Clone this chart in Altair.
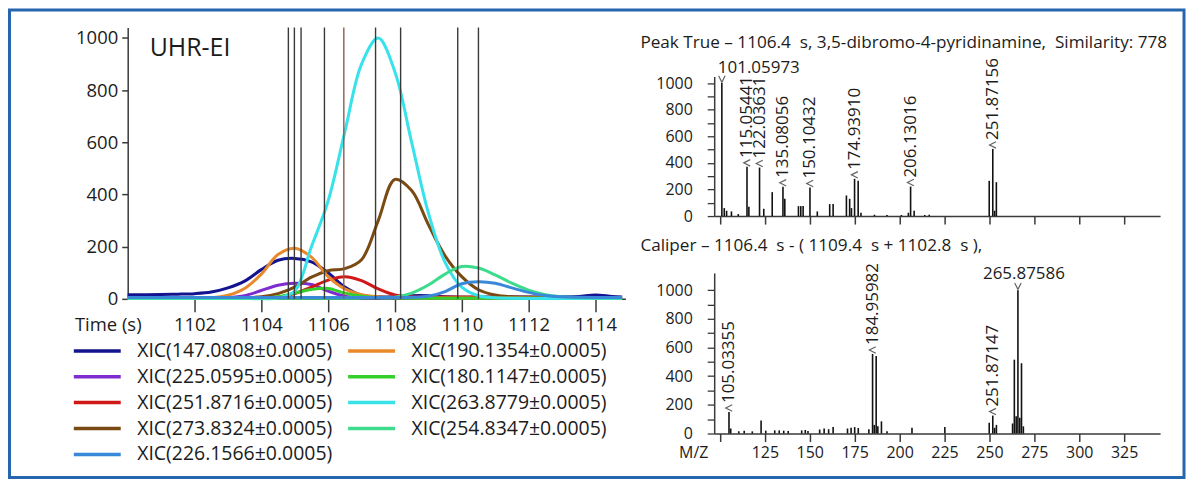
import altair as alt
import pandas as pd

FONT = "Open Sans"
INK = "#1c1c1c"
AXC = "#3a3a3a"

# ---------------- chromatogram (left) ----------------
time_s = [1100.0, 1100.5, 1101.0, 1101.5, 1102.0, 1102.5, 1103.0, 1103.5, 1104.0, 1104.5,
          1105.0, 1105.5, 1106.0, 1106.5, 1107.0, 1107.5, 1108.0, 1108.5, 1109.0, 1109.5,
          1110.0, 1110.5, 1111.0, 1111.5, 1112.0, 1112.5, 1113.0, 1113.5, 1114.0, 1114.5, 1114.8]

xic_147 = [16, 16, 17, 18, 20, 26, 42, 68, 112, 148, 155, 142, 100, 45, 14, 8, 8, 12, 12, 8,
           6, 6, 7, 7, 7, 7, 8, 9, 15, 9, 7]
xic_190 = [3, 3, 3, 3, 3, 4, 14, 40, 95, 170, 194, 160, 85, 38, 16, 8, 5, 4, 3, 3,
           3, 3, 3, 3, 3, 3, 3, 3, 3, 3, 3]
xic_225 = [2, 2, 2, 2, 2, 2, 4, 12, 32, 52, 60, 55, 30, 10, 4, 3, 2, 2, 2, 2,
           2, 2, 2, 2, 2, 2, 2, 2, 2, 2, 2]
xic_251 = [3, 3, 3, 3, 3, 3, 3, 3, 4, 6, 20, 45, 72, 85, 70, 38, 15, 8, 7, 7,
           7, 7, 7, 7, 6, 6, 5, 4, 3, 3, 3]
xic_273 = [3, 3, 3, 3, 3, 3, 4, 5, 8, 20, 45, 83, 108, 116, 150, 300, 458, 415, 285, 165,
           85, 35, 15, 8, 6, 5, 4, 4, 3, 3, 3]
xic_180 = [2, 2, 2, 2, 2, 2, 2, 2, 3, 8, 22, 36, 40, 22, 10, 5, 3, 2, 2, 2,
           2, 2, 2, 2, 2, 2, 2, 2, 2, 2, 2]
xic_263 = [1, 1, 1, 1, 1, 1, 1, 1, 1, 3, 30, 200, 375, 640, 900, 1000, 870, 600, 330, 140,
           45, 12, 4, 2, 1, 1, 1, 1, 1, 1, 1]
xic_254 = [2, 2, 2, 2, 2, 2, 2, 2, 2, 2, 2, 2, 2, 2, 3, 4, 6, 22, 53, 95,
           124, 118, 92, 60, 33, 16, 8, 5, 3, 3, 2]
xic_226 = [5, 5, 5, 5, 5, 5, 5, 5, 5, 5, 5, 5, 5, 5, 5, 5, 5, 6, 10, 28,
           58, 66, 60, 42, 25, 13, 8, 6, 5, 5, 5]

# drawing order (first drawn first)
series_draw = [
    ("XIC(147.0808±0.0005)", xic_147),
    ("XIC(225.0595±0.0005)", xic_225),
    ("XIC(251.8716±0.0005)", xic_251),
    ("XIC(273.8324±0.0005)", xic_273),
    ("XIC(190.1354±0.0005)", xic_190),
    ("XIC(180.1147±0.0005)", xic_180),
    ("XIC(263.8779±0.0005)", xic_263),
    ("XIC(254.8347±0.0005)", xic_254),
    ("XIC(226.1566±0.0005)", xic_226),
]

# legend order (column-major in a 2-column grid of 5 rows)
legend_order = ["XIC(147.0808±0.0005)", "XIC(225.0595±0.0005)",
                "XIC(251.8716±0.0005)", "XIC(273.8324±0.0005)",
                "XIC(226.1566±0.0005)", "XIC(190.1354±0.0005)",
                "XIC(180.1147±0.0005)", "XIC(263.8779±0.0005)",
                "XIC(254.8347±0.0005)"]
legend_colors = ["#13138f", "#7d2ccf", "#d01818", "#7a4a12", "#3a88d8",
                 "#e8892c", "#35cf2c", "#38e2ea", "#3ddc8c"]

marker_times = [1104.81, 1104.99, 1105.19, 1105.89, 1106.47, 1107.42, 1108.17, 1109.88, 1110.50]
marker_colors = ["#3a3a3a", "#3a3a3a", "#3a3a3a", "#3a3a3a", "#8a5a50",
                 "#3a3a3a", "#3a3a3a", "#3a3a3a", "#3a3a3a"]

panel_label = ["UHR-EI"]

rows = []
for k, (name, vals) in enumerate(series_draw):
    for t, v in zip(time_s, vals):
        rows.append({"t": t, "v": v, "series": name, "k": k})
df_xic = pd.DataFrame(rows)
df_mark = pd.DataFrame({"t": marker_times, "col": marker_colors})

W_L, H_L = 499, 272

x_t = alt.X("t:Q", scale=alt.Scale(domain=[1100, 1114.9], nice=False, zero=False),
            axis=alt.Axis(values=[1102, 1104, 1106, 1108, 1110, 1112, 1114], format="d",
                          title="Time (s)", titleX=-20, titleY=26, titleAlign="center",
                          titleBaseline="middle", titleFont=FONT, titleFontSize=18.5,
                          titleFontWeight="normal", titleColor=INK,
                          labelFont=FONT, labelFontSize=18.5, labelColor=INK, labelPadding=4,
                          tickSize=13, tickColor=AXC, tickWidth=1.5,
                          domainColor=AXC, domainWidth=1.5, grid=False))
y_v = alt.Y("v:Q", scale=alt.Scale(domain=[0, 1040], nice=False),
            axis=alt.Axis(values=[0, 200, 400, 600, 800, 1000], format="d", title=None,
                          labelFont=FONT, labelFontSize=18.5, labelColor=INK, labelPadding=4,
                          tickSize=6, tickColor=AXC, tickWidth=1.5,
                          domainColor=AXC, domainWidth=1.5, grid=False))

frame = alt.Chart(pd.DataFrame({"k": [0]})).mark_rect(
    fill="transparent", stroke="#2566ae", strokeWidth=3
).encode(x=alt.value(-118.5), x2=alt.value(1059), y=alt.value(-17.5), y2=alt.value(451))

# legend symbol: a wide horizontal stroke whose nominal size stays small
LEG_SYMBOL = "M-2.94,0H2.94"

lines = alt.Chart(df_xic).mark_line(strokeWidth=3, interpolate="catmull-rom").encode(
    x=x_t, y=y_v,
    color=alt.Color("series:N",
                    scale=alt.Scale(domain=legend_order, range=legend_colors),
                    legend=alt.Legend(title=None, orient="none", legendX=-40.5, legendY=314,
                                      columns=2, symbolType=LEG_SYMBOL, symbolSize=256,
                                      symbolStrokeWidth=3.5, symbolOffset=0,
                                      labelFont=FONT, labelFontSize=19.5, labelColor=INK,
                                      labelLimit=400, labelOffset=30, columnPadding=8,
                                      rowPadding=6, padding=0)),
    order=alt.Order("t:Q"),
)

rules = alt.Chart(df_mark).mark_rule(strokeWidth=1.4).encode(
    x=x_t, stroke=alt.Stroke("col:N", scale=None, legend=None))

label_uhr = alt.Chart(pd.DataFrame({"txt": panel_label})).mark_text(
    align="left", baseline="middle", font=FONT, fontSize=25, color=INK
).encode(x=alt.value(22), y=alt.value(20.5), text="txt:N")

left = alt.layer(frame, lines, rules, label_uhr).properties(width=W_L, height=H_L)

# ---------------- mass spectra (right) ----------------
top_title = ["Peak True \u2013 1106.4\u00a0 s, 3,5-dibromo-4-pyridinamine,\u00a0 Similarity: 778"]
top_mz = [101.05973, 102.4, 103.7, 106.4, 110.2, 115.05441, 116.1, 122.03631, 124.4, 129.1,
          135.08056, 136.1, 143.7, 145.0, 146.3, 150.10432, 154.2, 161.1, 163.0, 170.4,
          172.2, 173.2, 174.9391, 176.94, 178.5, 186.0, 193.0, 201.0, 204.9, 206.13016,
          208.1, 214.0, 216.5, 249.9, 251.87156, 252.9, 253.87]
top_int = [1000, 60, 40, 35, 15, 370, 70, 365, 55, 180,
           220, 130, 75, 75, 75, 215, 35, 90, 90, 155,
           130, 60, 280, 265, 25, 10, 8, 8, 25, 222,
           40, 8, 10, 265, 505, 40, 255]
top_lab_mz = [101.05973, 115.05441, 122.03631, 135.08056, 150.10432, 174.9391, 206.13016, 251.87156]
top_lab_text = ["101.05973", "115.05441", "122.03631", "135.08056", "150.10432",
                "174.93910", "206.13016", "251.87156"]
top_lab_orient = ["h", "v", "v", "v", "v", "v", "v", "v"]

bot_title = ["Caliper \u2013 1106.4\u00a0 s - ( 1109.4\u00a0 s + 1102.8\u00a0 s ),"]
bot_mz = [105.03355, 106.0, 110.5, 113.5, 118.0, 122.9, 125.5, 130.5, 133.0, 135.5,
          138.0, 145.5, 147.5, 149.0, 155.5, 158.0, 160.5, 163.0, 171.0, 173.0,
          175.0, 177.0, 182.9, 184.95982, 185.9, 186.96, 187.9, 189.9, 193.0, 206.9,
          225.2, 249.9, 251.87147, 252.9, 253.9, 262.9, 263.88, 264.9, 265.87586, 266.9,
          267.87, 268.9]
bot_int = [150, 35, 15, 20, 15, 90, 20, 22, 22, 20,
           18, 22, 25, 18, 28, 35, 30, 45, 35, 40,
           45, 38, 30, 555, 60, 540, 50, 85, 15, 40,
           45, 75, 125, 40, 60, 70, 515, 120, 1000, 110,
           490, 50]
bot_lab_mz = [105.03355, 184.95982, 251.87147, 265.87586]
bot_lab_text = ["105.03355", "184.95982", "251.87147", "265.87586"]
bot_lab_orient = ["v", "v", "v", "h"]

mz_ticks = [100, 125, 150, 175, 200, 225, 250, 275, 300, 325]
int_ticks = [0, 100, 200, 300, 400, 500, 600, 700, 800, 900, 1000]

W_R = 447
CHEVRON = "M-1,-1L0,1L1,-1"


def spectrum(mz, inten, lab_mz, lab_text, lab_orient, title, height, ymax,
             show_xlabels, h_align, h_dx, h_dy, title_y):
    lookup = dict(zip(mz, inten))
    df_pk = pd.DataFrame({"mz": mz, "inten": inten})
    df_lab = pd.DataFrame({"mz": lab_mz, "txt": lab_text, "orient": lab_orient,
                           "inten": [lookup[m] for m in lab_mz]})
    df_v = df_lab[df_lab["orient"] == "v"]
    df_h = df_lab[df_lab["orient"] == "h"]

    xax = alt.Axis(values=mz_ticks, labels=show_xlabels, format="d",
                   labelExpr="datum.value == 100 ? '' : datum.label",
                   title="M/Z" if show_xlabels else None,
                   titleX=-21, titleY=19, titleAlign="center", titleBaseline="middle",
                   titleFont=FONT, titleFontSize=16, titleFontWeight="normal", titleColor=INK,
                   labelFont=FONT, labelFontSize=16, labelColor=INK, labelPadding=3,
                   tickSize=8, tickColor=AXC, tickWidth=1.5,
                   domainColor=AXC, domainWidth=1.5, grid=False)
    x_m = alt.X("mz:Q", scale=alt.Scale(domain=[96.8, 345], nice=False, zero=False), axis=xax)
    y_i = alt.Y("inten:Q", scale=alt.Scale(domain=[0, ymax], nice=False),
                axis=alt.Axis(values=int_ticks, title=None, format="d",
                              labelExpr="datum.value % 200 == 0 ? datum.label : ''",
                              labelFont=FONT, labelFontSize=16, labelColor=INK, labelPadding=15,
                              tickSize=7, tickColor=AXC, tickWidth=1.3,
                              domainColor=AXC, domainWidth=1.5, grid=False))

    peaks = alt.Chart(df_pk).mark_rule(strokeWidth=1.6, color="#111111").encode(
        x=x_m, y=y_i, y2=alt.datum(0))
    chev_v = alt.Chart(df_v).mark_point(shape=CHEVRON, filled=False, color="#222222",
                                        strokeWidth=1.2, size=42, angle=90, yOffset=-4).encode(
        x=x_m, y=y_i)
    chev_h = alt.Chart(df_h).mark_point(shape=CHEVRON, filled=False, color="#222222",
                                        strokeWidth=1.2, size=42, yOffset=-4).encode(
        x=x_m, y=y_i)
    txt_v = alt.Chart(df_v).mark_text(angle=270, align="left", baseline="middle", dx=9,
                                      font=FONT, fontSize=17, color=INK).encode(
        x=x_m, y=y_i, text="txt:N")
    txt_h = alt.Chart(df_h).mark_text(align=h_align, baseline="middle", dx=h_dx, dy=h_dy,
                                      font=FONT, fontSize=17, color=INK).encode(
        x=x_m, y=y_i, text="txt:N")
    ttl = alt.Chart(pd.DataFrame({"txt": title})).mark_text(
        align="left", baseline="middle", font=FONT, fontSize=17.2, color=INK
    ).encode(x=alt.value(-74), y=alt.value(title_y), text="txt:N")
    return alt.layer(peaks, chev_v, chev_h, txt_v, txt_h, ttl).properties(width=W_R, height=height)


top = spectrum(top_mz, top_int, top_lab_mz, top_lab_text, top_lab_orient, top_title,
               140, 1050, False, "left", -4, -15, -33)
bottom = spectrum(bot_mz, bot_int, bot_lab_mz, bot_lab_text, bot_lab_orient, bot_title,
                  161, 1120, True, "center", 6, -16, -27)

spacer = alt.Chart(pd.DataFrame({"k": [0]})).mark_point(opacity=0).encode(
    x=alt.value(0), y=alt.value(0)).properties(width=W_R, height=39)

right_inner = alt.vconcat(top, bottom, spacing=57, bounds="flush")
right = alt.vconcat(spacer, right_inner, spacing=10, bounds="flush")

chart = alt.hconcat(left, right, spacing=89, bounds="flush").properties(
    padding=0, background="white"
).configure_view(strokeWidth=0)

chart.save("out.html", embed_options={"renderer": "svg", "actions": False})
